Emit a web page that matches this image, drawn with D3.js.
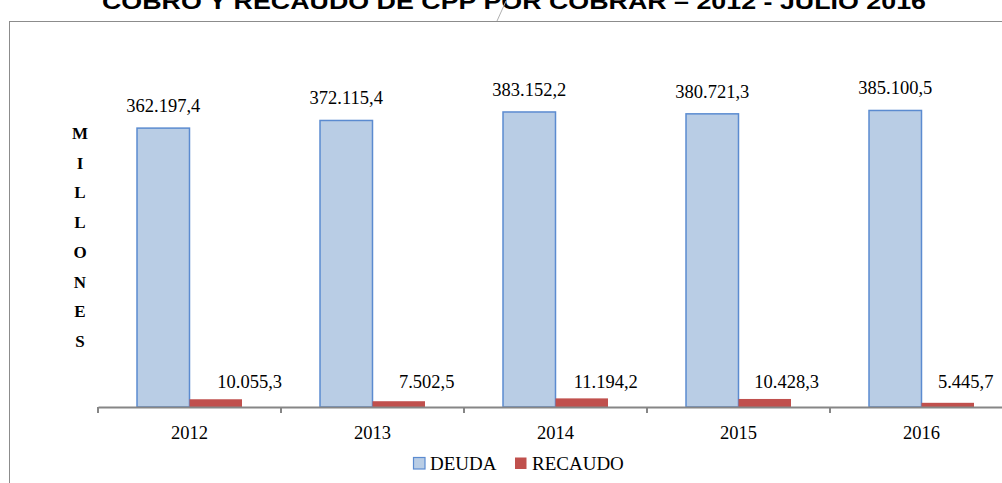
<!DOCTYPE html>
<html>
<head>
<meta charset="utf-8">
<script src="https://cdn.jsdelivr.net/npm/d3@7"></script>
<style>
  body { margin: 0; background: #fff; }
  svg { display: block; }
  text { font-family: "Liberation Serif", serif; fill: #000; }
</style>
</head>
<body>
<script>
// data
const years = ["2012", "2013", "2014", "2015", "2016"];
const series = ["DEUDA", "RECAUDO"];
const deuda = [362197.4, 372115.4, 383152.2, 380721.3, 385100.5];
const recaudo = [10055.3, 7502.5, 11194.2, 10428.3, 5445.7];
const deudaLabels = ["362.197,4", "372.115,4", "383.152,2", "380.721,3", "385.100,5"];
const recaudoLabels = ["10.055,3", "7.502,5", "11.194,2", "10.428,3", "5.445,7"];
const yLetters = "MILLONES".split("");
const titleText = "COBRO Y RECAUDO DE CPP  POR COBRAR  \u2013  2012  -  JULIO 2016";

// recaudo labels were nudged by hand in the original
const recLabelDx = [34, 28, 24, 22, 18];

const W = 1002, H = 483;
const colors = {DEUDA: "#B9CDE5", RECAUDO: "#C0504D"};

const svg = d3.select("body").append("svg")
  .attr("width", W).attr("height", H);

// outer frame (runs off the right/bottom edges)
svg.append("rect")
  .attr("x", 9.5).attr("y", 21.5)
  .attr("width", 1010).attr("height", 500)
  .attr("fill", "none").attr("stroke", "#8c8c8c").attr("stroke-width", 1);

// title, mostly cut off above the frame
svg.append("text")
  .attr("x", 102).attr("y", 9)
  .attr("textLength", 824).attr("lengthAdjust", "spacingAndGlyphs")
  .style("font-family", "'Liberation Sans', Arial, sans-serif")
  .style("font-weight", "bold").style("font-size", "22px")
  .text(titleText);
svg.append("line")
  .attr("x1", 506).attr("y1", 1).attr("x2", 497).attr("y2", 21)
  .attr("stroke", "#b0b0b0").attr("stroke-width", 1);

const x0 = d3.scaleBand().domain(years).range([98, 1013]).paddingInner(0).paddingOuter(0);
const x1 = d3.scaleBand().domain(series).range([0, x0.bandwidth()]).paddingInner(0).paddingOuter(0.743);
const y = d3.scaleLinear().domain([0, 400000]).range([407, 99]);

const rows = years.map((yr, i) => ({year: yr, i: i, DEUDA: deuda[i], RECAUDO: recaudo[i]}));

const groups = svg.selectAll("g.grp").data(rows).enter().append("g")
  .attr("class", "grp")
  .attr("transform", d => "translate(" + x0(d.year) + ",0)");

groups.append("rect")
  .attr("x", x1("DEUDA")).attr("y", d => y(d.DEUDA))
  .attr("width", x1.bandwidth()).attr("height", d => y(0) - y(d.DEUDA))
  .attr("fill", colors.DEUDA).attr("stroke", "#5B8BD0").attr("stroke-width", 1.5);

groups.append("rect")
  .attr("x", x1("RECAUDO")).attr("y", d => y(d.RECAUDO))
  .attr("width", x1.bandwidth()).attr("height", d => y(0) - y(d.RECAUDO))
  .attr("fill", colors.RECAUDO);

groups.append("text")
  .attr("x", x1("DEUDA") + x1.bandwidth() / 2)
  .attr("y", d => y(d.DEUDA) - 16)
  .attr("text-anchor", "middle").style("font-size", "18.5px")
  .text(d => deudaLabels[d.i]);

groups.append("text")
  .attr("x", d => x1("RECAUDO") + x1.bandwidth() / 2 + recLabelDx[d.i])
  .attr("y", y(0) - 19)
  .attr("text-anchor", "middle").style("font-size", "18.5px")
  .text(d => recaudoLabels[d.i]);

// x axis: labels centred, ticks between categories like Excel
const xAxis = svg.append("g").attr("transform", "translate(0," + y(0) + ")")
  .call(d3.axisBottom(x0).tickSize(0).tickPadding(19));
xAxis.select(".domain").attr("stroke", "#868686").attr("stroke-width", 2);
xAxis.selectAll(".tick text")
  .style("font-family", "'Liberation Serif', serif").style("font-size", "18.5px").attr("fill", "#000");
xAxis.selectAll("line.sep").data(years.concat(["end"])).enter().append("line")
  .attr("class", "sep")
  .attr("x1", (d, i) => i < years.length ? x0(d) : x0.range()[1])
  .attr("x2", (d, i) => i < years.length ? x0(d) : x0.range()[1])
  .attr("y1", 0).attr("y2", 6)
  .attr("stroke", "#868686").attr("stroke-width", 2);

// stacked vertical axis title
svg.append("g").selectAll("text").data(yLetters).enter().append("text")
  .attr("x", 80).attr("y", (d, i) => 139 + i * 29.7)
  .attr("text-anchor", "middle")
  .style("font-weight", "bold").style("font-size", "17px")
  .text(d => d);

// legend
const legend = svg.append("g").attr("transform", "translate(413,457)");
const lg = legend.selectAll("g").data(series).enter().append("g")
  .attr("transform", (d, i) => "translate(" + (i * 102) + ",0)");
lg.append("rect")
  .attr("x", d => d === "DEUDA" ? 0.5 : 0).attr("y", 0.5)
  .attr("width", 11.5).attr("height", 11.5)
  .attr("fill", d => colors[d])
  .attr("stroke", d => d === "DEUDA" ? "#5B8BD0" : "none")
  .attr("stroke-width", 1.2);
lg.append("text")
  .attr("x", 17).attr("y", 12.5)
  .style("font-size", "19px")
  .text(d => d);
</script>
</body>
</html>
